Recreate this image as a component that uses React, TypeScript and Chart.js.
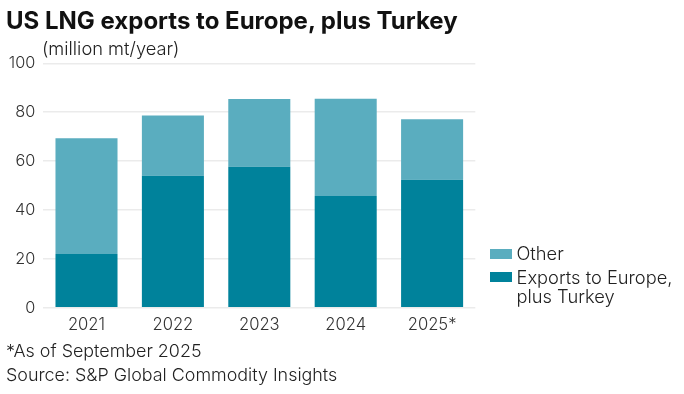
import React, { useEffect, useRef } from "react";
import { Chart, registerables } from "chart.js";

Chart.register(...registerables);

const categories = ["2021", "2022", "2023", "2024", "2025*"];
const europeTurkey = [22.0, 54.0, 57.7, 45.7, 52.4];
const otherTotals = [69.3, 78.6, 85.4, 85.5, 77.1];
const other = otherTotals.map((t, i) => +(t - europeTurkey[i]).toFixed(1));
const yTicks = [0, 20, 40, 60, 80, 100];

const DARK = "#00829B";
const LIGHT = "#5AADBF";
const FONT = "Inter, Roboto, sans-serif";

export default function App() {
  const ref = useRef<HTMLCanvasElement | null>(null);

  useEffect(() => {
    if (!ref.current) return;
    const chart = new Chart(ref.current, {
      type: "bar",
      data: {
        labels: categories,
        datasets: [
          {
            label: "Exports to Europe, plus Turkey",
            data: europeTurkey,
            backgroundColor: DARK,
            categoryPercentage: 1,
            barPercentage: 0.718,
          },
          {
            label: "Other",
            data: other,
            backgroundColor: LIGHT,
            categoryPercentage: 1,
            barPercentage: 0.718,
          },
        ],
      },
      options: {
        responsive: false,
        animation: false,
        devicePixelRatio: 1,
        layout: { padding: { top: 63.3, right: 208.7, left: 0, bottom: 0 } },
        plugins: {
          legend: { display: false },
          title: { display: false },
          tooltip: { enabled: false },
        },
        scales: {
          x: {
            stacked: true,
            grid: { display: false, drawTicks: false },
            border: { display: false },
            ticks: {
              color: "#333",
              font: { family: FONT, size: 16.6, weight: "300" },
              padding: 7,
            },
            afterFit: (s: any) => {
              s.height = 86.3;
            },
          },
          y: {
            stacked: true,
            min: 0,
            max: 100,
            afterBuildTicks: (s: any) => {
              s.ticks = yTicks.map((v) => ({ value: v }));
            },
            grid: { color: "#ebebeb", lineWidth: 1.5, drawTicks: false },
            border: { display: false },
            ticks: {
              color: "#333",
              font: { family: FONT, size: 16.3, weight: "300" },
              padding: 8,
            },
            afterFit: (s: any) => {
              s.width = 43.3;
            },
          },
        },
      },
    });
    return () => chart.destroy();
  }, []);

  const text: React.CSSProperties = {
    position: "absolute",
    fontFamily: FONT,
    fontWeight: 300,
    color: "#222",
    whiteSpace: "nowrap",
    margin: 0,
  };

  return (
    <div
      style={{
        position: "fixed",
        left: 0,
        top: 0,
        width: 684,
        height: 394,
        background: "#fff",
        overflow: "hidden",
      }}
    >
      <canvas
        ref={ref}
        width={684}
        height={394}
        style={{ position: "absolute", left: 0, top: 0, width: 684, height: 394 }}
      />
      <div style={{ ...text, left: 6, top: 8.8, fontSize: 24, lineHeight: "24px", fontWeight: 700, color: "#111" }}>
        US LNG exports to Europe, plus Turkey
      </div>
      <div style={{ ...text, left: 42, top: 39.2, fontSize: 18.3, lineHeight: "18.3px" }}>
        (million mt/year)
      </div>
      <div style={{ ...text, left: 490, top: 249, width: 22, height: 10, background: LIGHT }} />
      <div style={{ ...text, left: 516.5, top: 243.5, fontSize: 18.3, lineHeight: "18.3px" }}>Other</div>
      <div style={{ ...text, left: 490, top: 272, width: 22, height: 10, background: DARK }} />
      <div style={{ ...text, left: 516.5, top: 268.4, fontSize: 18.3, lineHeight: "18.5px" }}>
        Exports to Europe,
        <br />
        plus Turkey
      </div>
      <div style={{ ...text, left: 6, top: 341.8, fontSize: 17.9, lineHeight: "17.9px" }}>
        *As of September 2025
      </div>
      <div style={{ ...text, left: 6, top: 366.2, fontSize: 17.9, lineHeight: "17.9px" }}>
        Source: S&amp;P Global Commodity Insights
      </div>
    </div>
  );
}
